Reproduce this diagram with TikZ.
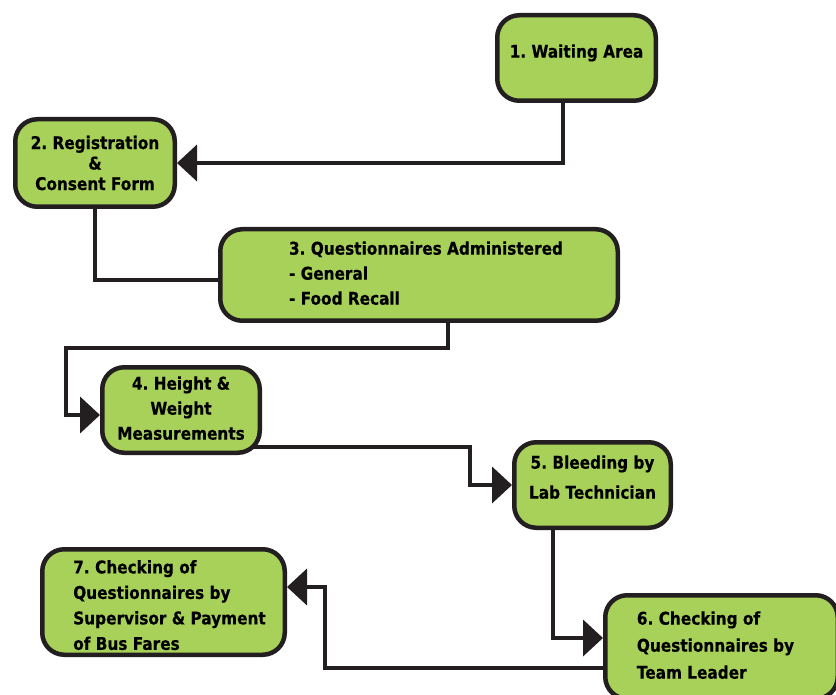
\documentclass[tikz,border=0pt]{standalone}
\usepackage{fontspec}
\setmainfont{DejaVu Sans}[FakeStretch=0.875,BoldFeatures={FakeStretch=0.875,FakeBold=0.5}]
\usetikzlibrary{arrows.meta,backgrounds}
\definecolor{boxgreen}{RGB}{168,209,90}
\definecolor{ink}{RGB}{35,31,32}
\frenchspacing
\newcommand\lowpad[1]{\rule[-#1]{0pt}{#1}}
\newcommand\highpad[1]{\rule{0pt}{#1}}
\begin{document}
\begin{tikzpicture}[x=1pt,y=-1pt,
  box/.style={draw=ink,line width=4.5pt,fill=boxgreen,rounded corners=22pt,inner sep=0pt,
    font=\bfseries\fontsize{17.5}{25}\selectfont,text=black},
  conn/.style={draw=ink,line width=4pt,line join=miter},
  arr/.style={conn,-{Triangle[length=20pt,width=36pt]}}]
\useasboundingbox (0,0) rectangle (836,695);
\clip (0,0) rectangle (836,695);

\node[box,minimum width=158.5pt,minimum height=85.5pt] (n1) at (576.5,58)
  {1. Waiting Area\lowpad{14pt}};
\node[box,align=center,minimum width=159.5pt,minimum height=87.5pt,
  font=\bfseries\fontsize{17.5}{20.5}\selectfont] (n2) at (95,163)
  {2. Registration\\\&\\Consent Form};
\node[box,align=left,minimum width=397.5pt,minimum height=91.5pt] (n3) at (419,275)
  {\hspace*{14pt}3. Questionnaires Administered\\\hspace*{14pt}- General\\\hspace*{14pt}- Food Recall\lowpad{4pt}};
\node[box,align=center,minimum width=157.5pt,minimum height=85.5pt] (n4) at (181,410)
  {4. Height \&\\Weight\\Measurements\lowpad{4pt}};
\node[box,align=center,minimum width=156.5pt,minimum height=85.5pt,
  font=\bfseries\fontsize{17.5}{30}\selectfont] (n5) at (592.5,485)
  {5. Bleeding by\\Lab Technician\lowpad{16pt}};
\node[box,align=left,minimum width=232.5pt,minimum height=103.5pt,
  font=\bfseries\fontsize{17.5}{27}\selectfont] (n6) at (721.5,647)
  {6. Checking of\\Questionnaires by\rule{12pt}{0pt}\\Team Leader\lowpad{4pt}};
\node[box,align=left,minimum width=242.5pt,minimum height=105.5pt,
  font=\bfseries\fontsize{17.5}{25.5}\selectfont] (n7) at (163.5,602)
  {\hspace*{12pt}7. Checking of\highpad{19.5pt}\\\hspace*{12pt}Questionnaires by\\\hspace*{12pt}Supervisor \& Payment\\\hspace*{12pt}of Bus Fares};

\coordinate (c34) at (66,348);
\coordinate (c45) at (470,447);
\coordinate (c67) at (325,668);

\begin{scope}[on background layer]
  \draw[arr] ([xshift=-13.5pt]n1.south) |- (n2.east);
  \draw[conn] (n2.south) |- ([yshift=-5pt]n3.west);
  \draw[arr] ([xshift=29pt]n3.south) |- (c34) |- ([yshift=-5pt]n4.west);
  \draw[arr] ([xshift=-20pt,yshift=-37pt]n4.east) -- (c45) |- (n5.west);
  \draw[arr] ([xshift=-39.5pt]n5.south) |- ([yshift=9pt]n6.west);
  \draw[arr] ([yshift=-21pt]n6.west) -- (c67) |- ([yshift=15pt]n7.east);
\end{scope}
\end{tikzpicture}
\end{document}
